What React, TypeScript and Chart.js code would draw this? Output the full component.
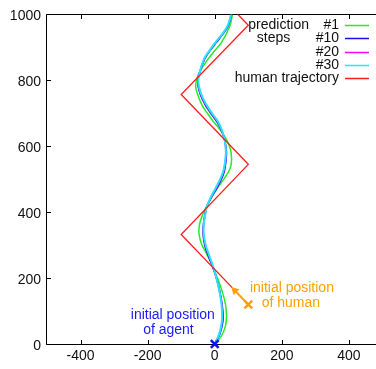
import React, { useEffect, useRef } from 'react';
import { Chart, registerables } from 'chart.js';

Chart.register(...registerables);

// ---- axes ----
const xTickValues = [-400, -200, 0, 200, 400];
const yTickValues = [0, 200, 400, 600, 800, 1000];
const xMin = -500;
const xMax = 500;
const yMin = 0;
const yMax = 1000;

// ---- legend ----
const legendTitle = ['prediction', 'steps'];
const legendLabels = ['#1', '#10', '#20', '#30', 'human trajectory'];

// ---- prediction step #1 (green) ----
const step1Y = [0, 25, 55, 85, 120, 160, 200, 240, 275, 305, 336, 365, 395, 416, 440, 476, 505, 530, 556, 590, 620, 650, 676, 700, 725, 760, 785, 815, 850, 880, 915, 965, 1000];
const step1X = [0, 20, 32, 35, 32, 22, 8, -8, -25, -40, -47, -45, -35, -25, -12, 10, 30, 45, 50, 47, 35, 16, -5, -22, -38, -52, -57, -50, -30, -8, 20, 45, 53];

// ---- prediction step #10 (blue) ----
const step10Y = [0, 30, 60, 85, 120, 160, 200, 230, 270, 300, 336, 370, 400, 416, 445, 476, 505, 530, 576, 600, 621, 650, 676, 700, 725, 760, 795, 820, 865, 890, 915, 940, 965, 1000];
const step10X = [0, 15, 23, 25, 22, 15, 5, -5, -20, -30, -35, -33, -28, -24, -10, 8, 22, 30, 35, 33, 29, 19, 5, -12, -28, -44, -51, -46, -30, -14, 5, 24, 40, 50];

// ---- prediction step #20 (magenta) ----
const step20Y = [0, 30, 60, 85, 120, 160, 200, 230, 270, 300, 336, 370, 400, 416, 445, 476, 505, 530, 576, 600, 621, 650, 676, 700, 725, 760, 795, 820, 865, 890, 915, 940, 965, 1000];
const step20X = [0, 14, 21, 23, 21, 14, 5, -4, -18, -28, -34, -32, -27, -24, -11, 6, 20, 28, 34, 32, 29, 20, 7, -10, -26, -43, -50, -46, -31, -15, 3, 23, 39, 49];

// ---- prediction step #30 (cyan) ----
const step30Y = [0, 30, 60, 85, 120, 160, 200, 230, 270, 300, 336, 370, 400, 416, 445, 476, 505, 530, 576, 600, 621, 650, 676, 700, 725, 760, 795, 820, 865, 890, 915, 940, 965, 1000];
const step30X = [0, 13, 20, 22, 20, 14, 5, -3, -17, -27, -33, -32, -27, -24, -12, 4, 18, 27, 33, 32, 29, 21, 9, -8, -24, -41, -49, -46, -32, -16, 2, 22, 38, 49];

// ---- human trajectory (red) ----
const humanX = [52, -100, 100, -100, 100, -100];
const humanY = [171, 332, 545, 757, 967, 1179];

// ---- initial positions ----
const agentStart = { x: 0, y: 0 };
const humanStart = { x: 100, y: 120 };
const humanArrowHead = { x: 60, y: 162 };

const FONT = "'Liberation Sans', Arial, Helvetica, sans-serif";

const pts = (xs: number[], ys: number[]) => xs.map((x, i) => ({ x, y: ys[i] }));

export default function App() {
  const ref = useRef<HTMLCanvasElement>(null);

  useEffect(() => {
    const canvas = ref.current!;
    const lineColors = ['#22ee22', '#1010f0', '#ff00ff', '#22e6ff', '#ff1a1a'];

    const framePlugin = {
      id: 'frameTicks',
      beforeDatasetsDraw(chart: any) {
        const { ctx, chartArea: a, scales } = chart;
        const L = Math.round(a.left) - 0.5;
        const R = Math.round(a.right) - 0.5;
        const T = Math.round(a.top) + 0.5;
        const B = Math.round(a.bottom) + 0.5;
        ctx.save();
        ctx.strokeStyle = '#000';
        ctx.lineWidth = 1;
        ctx.beginPath();
        ctx.moveTo(L, T); ctx.lineTo(R, T); ctx.lineTo(R, B); ctx.lineTo(L, B); ctx.closePath();
        const tl = 4.5;
        xTickValues.forEach((v) => {
          const px = Math.round(scales.x.getPixelForValue(v)) + 0.5;
          ctx.moveTo(px, T); ctx.lineTo(px, T + tl);
          ctx.moveTo(px, B); ctx.lineTo(px, B - tl);
        });
        yTickValues.forEach((v) => {
          const py = Math.round(scales.y.getPixelForValue(v)) + 0.5;
          ctx.moveTo(L, py); ctx.lineTo(L + tl, py);
          ctx.moveTo(R, py); ctx.lineTo(R - tl, py);
        });
        ctx.stroke();
        ctx.restore();
      },
      afterDraw(chart: any) {
        const { ctx, chartArea: a, scales } = chart;
        ctx.save();
        ctx.font = `14px ${FONT}`;
        ctx.textBaseline = 'middle';
        // legend
        const textRight = a.right - 43.5;
        const rowY = (i: number) => a.top + 10.7 + i * 13.3;
        ctx.fillStyle = '#111';
        ctx.textAlign = 'right';
        ctx.fillText(legendTitle[0], a.left + 262, rowY(0));
        ctx.textAlign = 'center';
        ctx.fillText(legendTitle[1], a.left + 226.5, rowY(1));
        ctx.textAlign = 'right';
        legendLabels.forEach((lab, i) => {
          ctx.fillStyle = '#111';
          ctx.fillText(lab, textRight, rowY(i));
          ctx.strokeStyle = lineColors[i];
          ctx.lineWidth = 1.5;
          ctx.beginPath();
          ctx.moveTo(a.right - 37.5, Math.round(rowY(i)) + 0.5);
          ctx.lineTo(a.right - 13.5, Math.round(rowY(i)) + 0.5);
          ctx.stroke();
        });
        // annotations
        ctx.textAlign = 'center';
        const sx = scales.x, sy = scales.y;
        ctx.fillStyle = '#1a1aff';
        ctx.fillText('initial position', sx.getPixelForValue(-125), sy.getPixelForValue(87));
        ctx.fillText('of agent', sx.getPixelForValue(-138), sy.getPixelForValue(42));
        ctx.fillStyle = '#ffa000';
        ctx.fillText('initial position', sx.getPixelForValue(230), sy.getPixelForValue(168));
        ctx.fillText('of human', sx.getPixelForValue(227), sy.getPixelForValue(123));
        ctx.restore();
      },
    };

    const curve = (label: string, data: any[], color: string, width: number, order: number, tension: number) => ({
      label,
      data,
      showLine: true,
      borderColor: color,
      backgroundColor: color,
      borderWidth: width,
      pointRadius: 0,
      tension,
      order,
    });

    const chart = new Chart(canvas, {
      type: 'scatter',
      data: {
        datasets: [
          {
            label: 'agent start',
            data: [agentStart],
            pointStyle: 'crossRot',
            pointRadius: 5.5,
            borderColor: '#1010f0',
            borderWidth: 2.5,
            clip: false,
            order: 0,
          } as any,
          {
            label: 'human start',
            data: [humanStart],
            pointStyle: 'crossRot',
            pointRadius: 5.5,
            borderColor: '#ffa000',
            borderWidth: 2.5,
            clip: false,
            order: 0,
          },
          {
            label: 'human arrow',
            data: [humanStart, humanArrowHead],
            showLine: true,
            borderColor: '#ffa000',
            backgroundColor: '#ffa000',
            borderWidth: 2,
            pointStyle: 'triangle',
            pointRadius: [0, 4],
            pointBorderWidth: 1,
            rotation: -45,
            order: 0,
          },
          curve(legendLabels[4], pts(humanX, humanY), lineColors[4], 1.3, 1, 0),
          curve(legendLabels[3], pts(step30X, step30Y), lineColors[3], 2, 2, 0.4),
          curve(legendLabels[2], pts(step20X, step20Y), lineColors[2], 1.5, 3, 0.4),
          curve(legendLabels[1], pts(step10X, step10Y), lineColors[1], 1.5, 4, 0.4),
          curve(legendLabels[0], pts(step1X, step1Y), lineColors[0], 1.5, 5, 0.4),
        ],
      },
      options: {
        responsive: false,
        animation: false,
        layout: { padding: { top: 10, right: 9.5, left: 0, bottom: 0 } },
        plugins: { legend: { display: false }, tooltip: { enabled: false } },
        scales: {
          x: {
            type: 'linear',
            min: xMin,
            max: xMax,
            grid: { display: false, drawTicks: false },
            border: { display: false },
            afterBuildTicks: (s: any) => { s.ticks = xTickValues.map((v) => ({ value: v })); },
            afterFit: (s: any) => { s.height = 25; },
            ticks: { font: { family: FONT, size: 14 }, color: '#111', padding: 4, maxRotation: 0, autoSkip: false, callback: (v: any) => String(v) },
          },
          y: {
            type: 'linear',
            min: yMin,
            max: yMax,
            grid: { display: false, drawTicks: false },
            border: { display: false },
            afterBuildTicks: (s: any) => { s.ticks = yTickValues.map((v) => ({ value: v })); },
            afterFit: (s: any) => { s.width = 47; },
            ticks: { font: { family: FONT, size: 14 }, color: '#111', padding: 6, autoSkip: false, labelOffset: 2, callback: (v: any) => String(v) } as any,
          },
        },
      } as any,
      plugins: [framePlugin],
    });
    return () => chart.destroy();
  }, []);

  return (
    <div style={{ position: 'absolute', left: 0, top: 0, width: 376, height: 369, overflow: 'hidden', background: '#fff' }}>
      <canvas ref={ref} width={392} height={369} style={{ width: 392, height: 369, display: 'block' }} />
    </div>
  );
}
